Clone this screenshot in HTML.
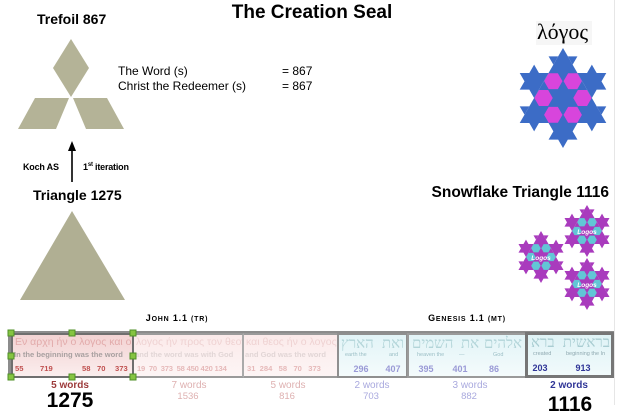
<!DOCTYPE html>
<html><head><meta charset="utf-8">
<style>
html,body{margin:0;padding:0;background:#fff;}
body{width:621px;height:417px;position:relative;overflow:hidden;font-family:"Liberation Sans",Arial,sans-serif;}
.a{position:absolute;white-space:nowrap;}
.c{transform:translateX(-50%);}
.box{position:absolute;box-sizing:border-box;overflow:hidden;}
.box *{white-space:nowrap;}
.gr{position:absolute;top:1px;left:2px;font-size:10.5px;}
.en{position:absolute;top:15px;left:1px;font-size:7.6px;font-weight:bold;}
.nm{position:absolute;top:29px;font-size:7.6px;font-weight:bold;}
.hb{position:absolute;top:1px;font-family:"Liberation Serif","DejaVu Serif","DejaVu Sans",serif;font-size:15px;direction:rtl;color:#b3d5d9;}
.gl{position:absolute;top:17px;font-size:5.5px;color:#9cbfc6;}
.bn{position:absolute;top:29px;font-size:9px;font-weight:bold;transform:translateX(-50%);}
.h{position:absolute;width:5px;height:5px;background:#86c441;border:1px solid #4f8f27;transform:translate(-50%,-50%);}
.lbl{font-size:10px;font-weight:bold;}
.sc{font-weight:bold;font-size:9px;letter-spacing:0.8px;}
.sc small{font-size:7px;}
</style></head>
<body>

<svg width="621" height="417" style="position:absolute;left:0;top:0">
  <defs>
    <g id="koch">
      <polygon points="0,-46.77 40.5,23.383 -40.5,23.383"/>
      <polygon transform="translate(40.5,23.383) rotate(180)" points="0,0 9,0 13.5,-7.794 18,0 27,0 31.5,-7.794 27,-15.588 36,-15.588 40.5,-23.383 45,-15.588 54,-15.588 49.5,-7.794 54,0 63,0 67.5,-7.794 72,0 81,0"/>
      <polygon transform="rotate(120) translate(40.5,23.383) rotate(180)" points="0,0 9,0 13.5,-7.794 18,0 27,0 31.5,-7.794 27,-15.588 36,-15.588 40.5,-23.383 45,-15.588 54,-15.588 49.5,-7.794 54,0 63,0 67.5,-7.794 72,0 81,0"/>
      <polygon transform="rotate(240) translate(40.5,23.383) rotate(180)" points="0,0 9,0 13.5,-7.794 18,0 27,0 31.5,-7.794 27,-15.588 36,-15.588 40.5,-23.383 45,-15.588 54,-15.588 49.5,-7.794 54,0 63,0 67.5,-7.794 72,0 81,0"/>
    </g>
    <g id="ring">
      <polygon transform="translate(18.2,0)" points="8.6,0 4.3,7.45 -4.3,7.45 -8.6,0 -4.3,-7.45 4.3,-7.45"/>
      <polygon transform="translate(-18.2,0)" points="8.6,0 4.3,7.45 -4.3,7.45 -8.6,0 -4.3,-7.45 4.3,-7.45"/>
      <polygon transform="translate(9.1,15.76)" points="8.6,0 4.3,7.45 -4.3,7.45 -8.6,0 -4.3,-7.45 4.3,-7.45"/>
      <polygon transform="translate(-9.1,15.76)" points="8.6,0 4.3,7.45 -4.3,7.45 -8.6,0 -4.3,-7.45 4.3,-7.45"/>
      <polygon transform="translate(9.1,-15.76)" points="8.6,0 4.3,7.45 -4.3,7.45 -8.6,0 -4.3,-7.45 4.3,-7.45"/>
      <polygon transform="translate(-9.1,-15.76)" points="8.6,0 4.3,7.45 -4.3,7.45 -8.6,0 -4.3,-7.45 4.3,-7.45"/>
    </g>
  </defs>

  <!-- faint slide edge -->
  <line x1="614.5" y1="0" x2="614.5" y2="405" stroke="#e6e6e6" stroke-width="1"/>

  <!-- trefoil -->
  <g fill="#b4b397">
    <polygon points="71,39 89,68 71,97 53,68"/>
    <polygon points="35,98 69,98 56,129 18,129"/>
    <polygon points="73,98 107,98 124,129 86,129"/>
  </g>

  <!-- arrow -->
  <line x1="72" y1="182" x2="72" y2="149" stroke="#000" stroke-width="1.6"/>
  <polygon points="68,151 76,151 72,141" fill="#000"/>

  <!-- triangle -->
  <polygon points="72,211 125,300 20,300" fill="#b0af93"/>

  <!-- big snowflake -->
  <g transform="translate(563,98) scale(1.069)">
    <use href="#koch" fill="#3c6cc6"/>
    <use href="#ring" fill="#d845dc"/>
  </g>

  <!-- small snowflakes -->
  <g transform="translate(541,257) scale(0.556)">
    <use href="#koch" fill="#a93bbd"/>
    <use href="#ring" fill="#62c6d6"/>
  </g>
  <g transform="translate(587,231) scale(0.556)">
    <use href="#koch" fill="#a93bbd"/>
    <use href="#ring" fill="#62c6d6"/>
  </g>
  <g transform="translate(587,284) scale(0.556)">
    <use href="#koch" fill="#a93bbd"/>
    <use href="#ring" fill="#62c6d6"/>
  </g>
  <g font-family="Liberation Sans, sans-serif" font-size="6.5" font-style="italic" font-weight="bold" fill="#fff" text-anchor="middle">
    <text x="541" y="260">Logos</text>
    <text x="587" y="234">Logos</text>
    <text x="587" y="287">Logos</text>
  </g>
</svg>

<!-- top texts -->
<div class="a c" style="left:312px;top:2px;font-size:19px;font-weight:bold;">The Creation Seal</div>
<div class="a" style="left:37px;top:11px;font-size:14px;font-weight:bold;">Trefoil 867</div>
<div class="a" style="left:118px;top:64px;font-size:12px;line-height:15px;">The Word (s)<br>Christ the Redeemer (s)</div>
<div class="a" style="left:282px;top:64px;font-size:12px;line-height:15px;">= 867<br>= 867</div>
<div class="a" style="left:23px;top:162px;font-size:9px;font-weight:bold;letter-spacing:-0.2px;">Koch AS</div>
<div class="a" style="left:83px;top:162px;font-size:9px;font-weight:bold;letter-spacing:-0.2px;">1<sup style="font-size:6px;">st</sup> iteration</div>
<div class="a" style="left:33px;top:187px;font-size:14px;font-weight:bold;">Triangle 1275</div>

<div class="a" style="left:536px;top:21px;width:56px;height:24px;background:#f6f6f6;"></div>
<div class="a" style="left:537px;top:19px;font-family:'Liberation Serif',serif;font-size:22px;">λόγος</div>
<div class="a" style="right:12px;top:184px;font-size:15.5px;font-weight:bold;">Snowflake Triangle 1116</div>

<!-- headers -->
<div class="a c sc" style="left:177px;top:313px;">J<small>OHN</small> 1.1 <small>(TR)</small></div>
<div class="a c sc" style="left:467px;top:313px;">G<small>ENESIS</small> 1.1 <small>(MT)</small></div>

<!-- bar frame -->
<div class="box" style="left:8px;top:331px;width:606px;height:47px;border-top:3px solid #8c8c8c;border-bottom:3px solid #8c8c8c;border-left:3px solid #8c8c8c;background:#fff;"></div>

<!-- box 1 -->
<div class="box" style="left:11px;top:333px;width:123px;height:45px;border:2px solid #6f6f6f;background:linear-gradient(#f3d3d3,#f7e2e2 60%,#fbeeee);">
  <div class="gr" style="color:#e2abab;">Εν αρχη ήν ο λογος και ο</div>
  <div class="en" style="color:#a8a0a0;">In the beginning was the word</div>
  <div class="nm" style="left:2px;color:#c0504f;">55</div>
  <div class="nm" style="left:27px;color:#c0504f;">719</div>
  <div class="nm" style="left:69px;color:#c0504f;">58</div>
  <div class="nm" style="left:84px;color:#c0504f;">70</div>
  <div class="nm" style="left:102px;color:#c0504f;">373</div>
</div>
<!-- box 2 -->
<div class="box" style="left:134px;top:333px;width:110px;height:45px;border-top:2px solid #9a9a9a;border-bottom:2px solid #9a9a9a;border-right:2px solid #aaa;background:linear-gradient(#fbeaea,#fdf5f5);">
  <div class="gr" style="color:#efd2d2;">λογος ήν προς τον θεον</div>
  <div class="en" style="color:#e2d6d6;">and the word was with God</div>
  <div class="nm" style="left:3px;color:#e6b9b9;letter-spacing:-0.2px;">19&nbsp;&nbsp;70&nbsp;&nbsp;373&nbsp;&nbsp;58&nbsp;450&nbsp;420&nbsp;134</div>
</div>
<!-- box 3 -->
<div class="box" style="left:244px;top:333px;width:94px;height:45px;border-top:2px solid #9a9a9a;border-bottom:2px solid #9a9a9a;background:linear-gradient(#fbeaea,#fdf5f5);">
  <div class="gr" style="color:#efd2d2;">και θεος ήν ο λογος</div>
  <div class="en" style="color:#e2d6d6;">and God was the word</div>
  <div class="nm" style="left:3px;color:#e6b9b9;">31&nbsp;&nbsp;284&nbsp;&nbsp;&nbsp;58&nbsp;&nbsp;&nbsp;70&nbsp;&nbsp;&nbsp;373</div>
</div>
<!-- box 4 -->
<div class="box" style="left:337px;top:333px;width:71px;height:45px;border:2px solid #8f8f8f;background:linear-gradient(#e2f4f7,#f4fbfc);">
  <div class="hb" style="left:2px;">הארץ</div>
  <div class="hb" style="right:2px;">ואת</div>
  <div class="gl" style="left:6px;">earth the</div>
  <div class="gl" style="left:50px;">and</div>
  <div class="bn" style="left:22px;color:#9a9ad6;">296</div>
  <div class="bn" style="left:54px;color:#9a9ad6;">407</div>
</div>
<!-- box 5 -->
<div class="box" style="left:407px;top:333px;width:120px;height:45px;border:2px solid #9a9a9a;background:linear-gradient(#e2f4f7,#f4fbfc);">
  <div class="hb" style="left:3px;">השמים</div>
  <div class="hb" style="left:52px;">את</div>
  <div class="hb" style="right:3px;">אלהים</div>
  <div class="gl" style="left:8px;">heaven the</div>
  <div class="gl" style="left:50px;">—</div>
  <div class="gl" style="left:84px;">God</div>
  <div class="bn" style="left:17px;color:#9a9ad6;">395</div>
  <div class="bn" style="left:51px;color:#9a9ad6;">401</div>
  <div class="bn" style="left:85px;color:#9a9ad6;">86</div>
</div>
<!-- box 6 -->
<div class="box" style="left:525px;top:332px;width:89px;height:46px;border:3px solid #767676;background:linear-gradient(#dff3f6,#f1fafb);">
  <div class="hb" style="left:3px;top:0px;color:#a9cdd2;">ברא</div>
  <div class="hb" style="right:1px;top:0px;color:#a9cdd2;">בראשית</div>
  <div class="gl" style="left:5px;top:16px;color:#8fa9b0;">created</div>
  <div class="gl" style="left:38px;top:16px;color:#8fa9b0;">beginning the In</div>
  <div class="bn" style="left:12px;top:28px;color:#2f3597;">203</div>
  <div class="bn" style="left:55px;top:28px;color:#2f3597;">913</div>
</div>

<!-- handles -->
<div class="h" style="left:11px;top:333px;"></div>
<div class="h" style="left:72px;top:333px;"></div>
<div class="h" style="left:133px;top:333px;"></div>
<div class="h" style="left:11px;top:356px;"></div>
<div class="h" style="left:133px;top:356px;"></div>
<div class="h" style="left:11px;top:377px;"></div>
<div class="h" style="left:72px;top:377px;"></div>
<div class="h" style="left:133px;top:377px;"></div>

<!-- labels below -->
<div class="a c lbl" style="left:70px;top:380px;color:#9c3a3a;">5 words</div>
<div class="a c" style="left:70px;top:389px;font-size:21px;font-weight:bold;">1275</div>
<div class="a c lbl" style="left:189px;top:380px;color:#deb0b0;font-weight:normal;">7 words</div>
<div class="a c" style="left:188px;top:391px;font-size:9.5px;color:#deb0b0;">1536</div>
<div class="a c lbl" style="left:288px;top:380px;color:#deb0b0;font-weight:normal;">5 words</div>
<div class="a c" style="left:287px;top:391px;font-size:9.5px;color:#deb0b0;">816</div>
<div class="a c lbl" style="left:372px;top:380px;color:#a9a9de;font-weight:normal;">2 words</div>
<div class="a c" style="left:371px;top:391px;font-size:9.5px;color:#a9a9de;">703</div>
<div class="a c lbl" style="left:470px;top:380px;color:#a9a9de;font-weight:normal;">3 words</div>
<div class="a c" style="left:469px;top:391px;font-size:9.5px;color:#a9a9de;">882</div>
<div class="a c lbl" style="left:569px;top:380px;color:#2f3597;">2 words</div>
<div class="a c" style="left:570px;top:393px;font-size:21px;font-weight:bold;">1116</div>

</body></html>
